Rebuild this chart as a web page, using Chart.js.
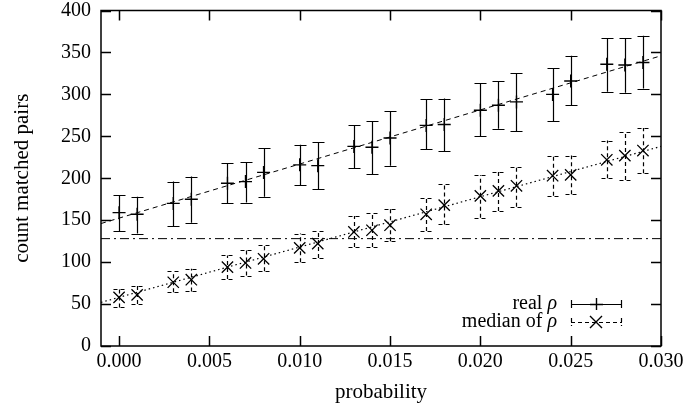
<!DOCTYPE html>
<html>
<head>
<meta charset="utf-8">
<script src="https://cdn.jsdelivr.net/npm/chart.js@4.4.0/dist/chart.umd.min.js"></script>
<style>
  html, body { margin: 0; padding: 0; background: #fff; }
  #wrap { width: 688px; height: 410px; }
</style>
</head>
<body>
<div id="wrap"><canvas id="myChart" width="688" height="410"></canvas></div>
<script>
// data
const probability = [0.000, 0.001, 0.003, 0.004, 0.006, 0.007, 0.008, 0.010, 0.011, 0.013, 0.014,
  0.015, 0.017, 0.018, 0.020, 0.021, 0.022, 0.024, 0.025, 0.027, 0.028, 0.029];

const realRho  = [159, 157, 170, 175, 194, 196, 207, 216, 215, 238, 237, 248, 263, 264, 281, 287, 291, 300, 316, 336, 335, 338];
const realHigh = [180, 178, 196, 202, 218, 219, 236, 240, 243, 263, 268, 280, 294, 295, 313, 316, 325, 331, 346, 367, 367, 370];
const realLow  = [137, 134, 143, 147, 170, 171, 178, 192, 187, 212, 205, 215, 235, 232, 250, 259, 256, 268, 287, 303, 302, 307];

const medianRho  = [58, 61, 76, 79, 94, 99, 104, 117, 122, 136, 138, 144, 157, 168, 179, 185, 191, 203, 204, 222, 227, 233];
const medianHigh = [68, 72, 89, 92, 108, 114, 120, 134, 137, 155, 158, 163, 177, 193, 204, 208, 213, 227, 227, 245, 255, 260];
const medianLow  = [46, 50, 64, 65, 80, 84, 89, 100, 105, 118, 118, 125, 137, 145, 153, 161, 166, 179, 181, 200, 198, 206];

// fitted lines, value at each end of the x range
const fitX = [-0.001, 0.030];
const realFit = [146, 346];
const medianFit = [52, 238];
const threshold = 128;

const xTicks = [0.000, 0.005, 0.010, 0.015, 0.020, 0.025, 0.030];
const yTicks = [0, 50, 100, 150, 200, 250, 300, 350, 400];

const FONT = "'Liberation Serif', 'DejaVu Serif', serif";

function pairs(xs, ys) {
  return xs.map(function(x, i) { return { x: x, y: ys[i] }; });
}

// error bars drawn with the chart's own scales
const errorBarPlugin = {
  id: "errorBars",
  beforeDatasetsDraw(chart) {
    const ctx = chart.ctx;
    const xs = chart.scales.x, ys = chart.scales.y;
    chart.data.datasets.forEach(function(ds) {
      if (!ds.errorBars) return;
      const eb = ds.errorBars;
      ctx.save();
      ctx.strokeStyle = "#000";
      ctx.lineWidth = 1.2;
      ctx.setLineDash(eb.dash || []);
      ds.data.forEach(function(p, i) {
        const px = Math.round(xs.getPixelForValue(p.x)) + 0.5;
        const yl = ys.getPixelForValue(eb.low[i]);
        const yh = ys.getPixelForValue(eb.high[i]);
        ctx.beginPath();
        ctx.moveTo(px, yl);
        ctx.lineTo(px, yh);
        ctx.moveTo(px - 6, Math.round(yl) + 0.5);
        ctx.lineTo(px + 6, Math.round(yl) + 0.5);
        ctx.moveTo(px - 6, Math.round(yh) + 0.5);
        ctx.lineTo(px + 6, Math.round(yh) + 0.5);
        ctx.stroke();
      });
      ctx.restore();
    });
  }
};

// frame, inward ticks and the key
const framePlugin = {
  id: "frame",
  afterDraw(chart) {
    const ctx = chart.ctx;
    const a = chart.chartArea;
    const xs = chart.scales.x, ys = chart.scales.y;
    ctx.save();
    ctx.strokeStyle = "#000";
    ctx.lineWidth = 1.5;
    ctx.setLineDash([]);
    ctx.strokeRect(a.left, a.top, a.right - a.left, a.bottom - a.top);
    ctx.beginPath();
    xTicks.forEach(function(v) {
      const px = Math.round(xs.getPixelForValue(v)) + 0.5;
      ctx.moveTo(px, a.bottom); ctx.lineTo(px, a.bottom - 10);
      ctx.moveTo(px, a.top); ctx.lineTo(px, a.top + 10);
    });
    yTicks.forEach(function(v) {
      const py = Math.round(ys.getPixelForValue(v)) + 0.5;
      ctx.moveTo(a.left, py); ctx.lineTo(a.left + 10, py);
      ctx.moveTo(a.right, py); ctx.lineTo(a.right - 10, py);
    });
    ctx.stroke();

    // key
    const textRight = 557;
    const rows = [
      { label: "real ", y: 304, dash: [], marker: "plus" },
      { label: "median of ", y: 322, dash: [4, 3], marker: "x" }
    ];
    ctx.fillStyle = "#000";
    ctx.textBaseline = "alphabetic";
    rows.forEach(function(r) {
      ctx.font = "italic 20px " + FONT;
      const rhoW = ctx.measureText("ρ").width;
      ctx.textAlign = "right";
      ctx.fillText("ρ", textRight, r.y + 5);
      ctx.font = "20px " + FONT;
      ctx.fillText(r.label, textRight - rhoW, r.y + 5);

      ctx.lineWidth = 1.2;
      ctx.setLineDash(r.dash);
      ctx.beginPath();
      ctx.moveTo(571, r.y + 0.5); ctx.lineTo(622, r.y + 0.5);
      ctx.moveTo(571.5, r.y - 4); ctx.lineTo(571.5, r.y + 4);
      ctx.moveTo(621.5, r.y - 4); ctx.lineTo(621.5, r.y + 4);
      ctx.stroke();
      ctx.setLineDash([]);
      ctx.lineWidth = 1.4;
      ctx.beginPath();
      if (r.marker === "plus") {
        ctx.moveTo(596.5, r.y - 6); ctx.lineTo(596.5, r.y + 6);
        ctx.moveTo(590, r.y + 0.5); ctx.lineTo(603, r.y + 0.5);
      } else {
        ctx.moveTo(590, r.y - 6); ctx.lineTo(602, r.y + 6);
        ctx.moveTo(590, r.y + 6); ctx.lineTo(602, r.y - 6);
      }
      ctx.stroke();
    });
    ctx.restore();
  }
};

const ctx = document.getElementById("myChart");

new Chart(ctx, {
  type: "scatter",
  data: {
    datasets: [
      {
        type: "line",
        label: "real fit",
        data: pairs(fitX, realFit),
        borderColor: "#000",
        borderWidth: 1,
        borderDash: [5, 4],
        pointRadius: 0,
        fill: false
      },
      {
        type: "line",
        label: "median fit",
        data: pairs(fitX, medianFit),
        borderColor: "#000",
        borderWidth: 1.2,
        borderDash: [1.5, 3],
        pointRadius: 0,
        fill: false
      },
      {
        type: "line",
        label: "threshold",
        data: pairs(fitX, [threshold, threshold]),
        borderColor: "#000",
        borderWidth: 1,
        borderDash: [9, 4, 2, 4],
        pointRadius: 0,
        fill: false
      },
      {
        label: "real ρ",
        data: pairs(probability, realRho),
        errorBars: { low: realLow, high: realHigh, dash: [] },
        pointStyle: "cross",
        pointRadius: 6.5,
        borderColor: "#000",
        borderWidth: 1.4,
        showLine: false
      },
      {
        label: "median of ρ",
        data: pairs(probability, medianRho),
        errorBars: { low: medianLow, high: medianHigh, dash: [4, 3] },
        pointStyle: "crossRot",
        pointRadius: 8,
        borderColor: "#000",
        borderWidth: 1.3,
        showLine: false
      }
    ]
  },
  options: {
    responsive: false,
    animation: false,
    layout: { padding: { top: 10.5, right: 27, left: 0, bottom: 0 } },
    plugins: {
      legend: { display: false },
      tooltip: { enabled: false }
    },
    scales: {
      x: {
        type: "linear",
        min: -0.001,
        max: 0.030,
        afterBuildTicks: function(s) { s.ticks = xTicks.map(function(v) { return { value: v }; }); },
        afterFit: function(s) { s.height = 64; },
        grid: { display: false, drawTicks: false },
        border: { display: false },
        ticks: {
          color: "#000",
          padding: 4,
          maxRotation: 0,
          font: { family: FONT, size: 20 },
          callback: function(v) { return v.toFixed(3); }
        },
        title: {
          display: true,
          text: "probability",
          color: "#000",
          padding: { top: 0, bottom: 5 },
          font: { family: FONT, size: 21 }
        }
      },
      y: {
        min: 0,
        max: 400,
        afterBuildTicks: function(s) { s.ticks = yTicks.map(function(v) { return { value: v }; }); },
        afterFit: function(s) { s.width = 101; s.paddingTop = 0; s.paddingBottom = 0; },
        grid: { display: false, drawTicks: false },
        border: { display: false },
        ticks: {
          color: "#000",
          padding: 10,
          font: { family: FONT, size: 20 },
          callback: function(v) { return v; }
        },
        title: {
          display: true,
          text: "count matched pairs",
          color: "#000",
          padding: { top: 10, bottom: 0 },
          font: { family: FONT, size: 21 }
        }
      }
    }
  },
  plugins: [errorBarPlugin, framePlugin]
});
</script>
</body>
</html>
